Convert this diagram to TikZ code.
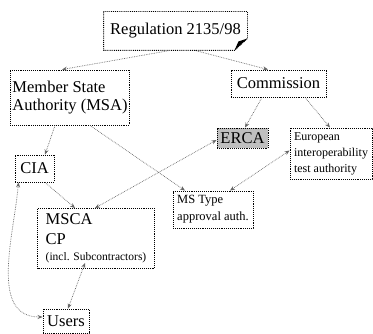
\documentclass[tikz,border=0pt]{standalone}
\usepackage{fontspec}
\setmainfont{Liberation Serif}
\usetikzlibrary{positioning,arrows.meta}

\begin{document}
\begin{tikzpicture}[x=1pt, y=-1pt,
				boxnode/.style={draw=black, densely dotted, line width=0.9pt, inner sep=2pt, align=left, font=\fontsize{16.5}{18.5}\selectfont},
				smallnode/.style={boxnode, font=\fontsize{12.5}{17}\selectfont},
				link/.style={densely dotted, gray!80!black, line width=0.7pt, -{Stealth[length=5pt, width=4pt]}},
				twolink/.style={link, {Stealth[length=5pt, width=4pt]}-{Stealth[length=5pt, width=4pt]}},
				]
		
				\useasboundingbox (0,0) rectangle (373,334);
		
				%Nodes
				\node[boxnode, draw=none, minimum width=143pt, minimum height=38pt]	(reg)	at (175.5,31)	{Regulation 2135/98};
				\node[boxnode, minimum width=116pt, minimum height=55pt]	(msa)	at (70,97.5)	{Member State\\Authority (MSA)};
				\node[boxnode, minimum width=95pt, minimum height=27pt]	(com)	at (278.5,83.5)	{Commission};
				\node[boxnode, fill=gray!50, minimum width=51pt, minimum height=20pt]	(erca)	at (242.5,138)	{ERCA};
				\node[smallnode, font=\fontsize{12}{16}\selectfont, minimum width=82pt, minimum height=51pt]	(eita)	at (331,153.5)	{European\\interoperability\\test authority};
				\node[boxnode, minimum width=39pt, minimum height=27pt]	(cia)	at (34.5,168.5)	{CIA};
				\node[smallnode, minimum width=80pt, minimum height=37pt]	(mst)	at (213,209.5)	{MS Type\\approval auth.};
				\node[boxnode, font=\fontsize{16.5}{20}\selectfont, minimum width=117pt, minimum height=60pt]	(msca)	at (96,238.5)	{MSCA\\CP\\[-4pt]{\fontsize{11.5}{14}\selectfont (incl. Subcontractors)}};
				\node[boxnode, minimum width=46pt, minimum height=24pt]	(users)	at (66,321)	{Users};
		
				%Folded corner of the regulation box
				\draw[densely dotted, line width=0.9pt] (reg.north west) -- (reg.north east) -- ([yshift=12pt]reg.south east) -- ([xshift=-13pt]reg.south east) -- (reg.south west) -- cycle;
				\fill[black] ([xshift=-13pt]reg.south east) -- ([yshift=12pt]reg.south east) -- ([xshift=-9pt, yshift=9pt]reg.south east) -- cycle;
		
				%Lines
				\draw[link]	([xshift=-5.5pt]reg.south) -- ([xshift=-8pt]msa.north);
				\draw[link]	([xshift=19.5pt]reg.south) -- ([xshift=-10.5pt]com.north);
				\draw[link]	([xshift=-16.5pt]com.south) -- ([xshift=2.5pt]erca.north);
				\draw[link]	([xshift=26.5pt]com.south) -- ([xshift=-1pt]eita.north);
				\draw[link]	([xshift=-15pt]msa.south) -- ([xshift=10.5pt]cia.north);
				\draw[link]	([xshift=20pt]msa.south) -- ([xshift=-28pt]mst.north);
				\draw[twolink]	([yshift=-2pt]erca.west) -- ([xshift=-1pt]msca.north);
				\draw[twolink]	([yshift=3pt]eita.west) -- ([xshift=17pt]mst.north);
				\draw[link]	([xshift=10.5pt]cia.south) -- ([xshift=-21pt]msca.north);
				\draw[twolink]	([xshift=-11pt, yshift=6pt]msca.south) -- ([xshift=2pt]users.north);
				\draw[twolink]	([xshift=-16pt]cia.south) to[out=-95, in=180] ([yshift=4pt]users.west);
			\end{tikzpicture}
\end{document}
